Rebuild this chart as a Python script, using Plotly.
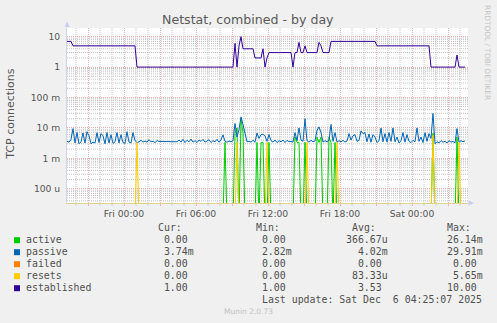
import numpy as np
import pandas as pd
import plotly.graph_objects as go

# ---------------- data ----------------
START = "2025-12-04 19:15"      # first sample (Thu)
STEP_MIN = 10                    # minutes between samples
N = 200

# passive (values in milli connections/s), one per sample
passive_m = [
    3.6, 3.4, 4.2, 9.5, 3.2, 7.0, 3.0, 3.5, 6.8, 3.2,
    7.5, 5.5, 3.0, 3.4, 3.2, 7.0, 3.3, 6.5, 5.5, 3.0,
    7.0, 3.2, 6.0, 3.1, 3.5, 7.0, 3.2, 6.0, 3.3, 3.1,
    7.5, 3.4, 3.2, 7.0, 3.8, 3.3, 3.5, 3.9, 3.4, 3.7,
    3.4, 4.1, 3.5, 3.6, 3.3, 3.8, 3.6, 3.6, 3.6, 3.6,
    3.7, 3.7, 3.7, 3.7, 3.7, 3.5, 4.0, 3.4, 4.2, 3.3,
    3.9, 3.5, 4.3, 3.4, 3.8, 3.3, 4.0, 3.6, 4.2, 3.4,
    3.7, 4.1, 3.3, 3.8, 3.5, 4.2, 3.4, 4.0, 5.9, 3.6,
    3.4, 3.7, 3.5, 3.8, 14.0, 5.0, 9.0, 23.0, 13.0, 6.5,
    3.5, 3.6, 3.4, 3.9, 3.4, 6.8, 4.5, 6.0, 6.2, 5.5,
    3.6, 6.0, 3.8, 3.4, 4.0, 3.3, 3.8, 3.5, 4.0, 3.3,
    3.9, 3.5, 3.6, 3.4, 7.0, 3.8, 10.0, 4.0, 3.6, 20.0,
    3.8, 3.4, 3.9, 3.5, 3.7, 8.3, 10.8, 7.0, 3.4, 3.8,
    3.5, 3.9, 13.0, 3.6, 7.0, 3.4, 3.8, 3.5, 3.9, 3.4,
    3.7, 6.5, 4.0, 5.5, 6.0, 3.6, 3.9, 8.0, 6.5, 7.0,
    3.5, 6.3, 3.4, 6.0, 5.0, 3.3, 3.8, 9.9, 3.5, 6.5,
    3.4, 7.0, 3.6, 10.0, 3.5, 5.0, 3.2, 3.8, 7.0, 3.4,
    6.0, 3.6, 3.3, 3.9, 3.5, 10.0, 3.6, 5.0, 3.3, 7.0,
    3.6, 6.5, 4.5, 30.0, 3.0, 3.5, 3.2, 3.8, 3.4, 3.6,
    3.2, 3.8, 3.4, 3.6, 3.2, 9.5, 3.4, 3.8, 3.5, 3.74,
]

# active: non-zero samples (index, milli); all other samples are 0
active_idx = [79, 84, 85, 87, 88, 95, 97, 98, 101, 114, 115, 116, 119,
              125, 126, 127, 131, 132, 134, 183, 195]
active_val = [3.33, 6.67, 10.0, 20.0, 6.67, 3.33, 3.33, 3.33, 3.33, 5.0, 3.33, 3.33, 3.33,
              5.0, 3.33, 5.0, 5.0, 3.33, 3.33, 6.67, 5.0]

# resets: non-zero samples (index, milli)
resets_idx = [35, 85, 100, 120, 135, 183, 196]
resets_val = [3.33, 3.33, 3.33, 3.33, 3.33, 5.65, 3.33]

# failed: all zero
failed_idx = []
failed_val = []

# established: vertices (sample index, value)
est_idx = [0, 2, 3, 34, 35, 83, 84, 85, 86, 87, 88, 93, 94, 97, 98, 99, 100, 101,
           112, 113, 114, 115, 116, 117, 118, 119, 120, 125, 126, 127, 128, 131,
           132, 154, 155, 181, 182, 194, 195, 196, 199]
est_val = [7, 7, 5, 5, 1, 1, 6, 1, 5, 10, 4, 4, 2, 2, 4, 1, 2, 3,
           3, 1, 3, 3, 6.5, 3, 3, 5, 3, 3, 6.5, 5, 3, 3,
           7, 7, 5, 5, 1, 1, 2.5, 1, 1]

series_names = ["active", "passive", "failed", "resets", "established"]
series_colors = ["#00cc00", "#0066b3", "#ff8000", "#ffcc00", "#330099"]
cur_txt = ["  0.00 ", "  3.74m", "  0.00 ", "  0.00 ", "  1.00 "]
min_txt = ["  0.00 ", "  2.82m", "  0.00 ", "  0.00 ", "  1.00 "]
avg_txt = ["366.67u", "  4.02m", "  0.00 ", " 83.33u", "  3.53 "]
max_txt = [" 26.14m", " 29.91m", "  0.00 ", "  5.65m", " 10.00 "]

ytick_vals = [1e-4, 1e-3, 1e-2, 1e-1, 1, 10]
ytick_text = ["100 u", "1 m", "10 m", "100 m", "1", "10"]

X_RANGE = ["2025-12-04 19:15", "2025-12-06 04:40"]
Y_LOG_RANGE = [-4.47, 1.286]
LOG_FLOOR = 1e-5   # zeros are drawn down to the bottom edge, as rrdtool does

# ---------------- build ----------------
W, H = 497, 323
L, R, T, B = 67, 29, 28, 120
PW, PH = W - L - R, H - T - B


def xp(px):
    return (px - L) / PW


def yp(py):
    return 1 - (py - T) / PH


def ylog_paper(v):
    return (np.log10(v) - Y_LOG_RANGE[0]) / (Y_LOG_RANGE[1] - Y_LOG_RANGE[0])


t0 = pd.Timestamp(START)
times = t0 + pd.to_timedelta(np.arange(N) * STEP_MIN, unit="min")


def sparse_full(idx, val):
    arr = [0.0] * N
    for i, v in zip(idx, val):
        arr[i] = v
    return arr


def to_plot(milli):
    return [v / 1000.0 if v > 0 else LOG_FLOOR for v in milli]


active = sparse_full(active_idx, active_val)
resets = sparse_full(resets_idx, resets_val)
failed = sparse_full(failed_idx, failed_val)

fig = go.Figure()
fig.add_trace(go.Scatter(x=times, y=to_plot(active), mode="lines",
                         line=dict(color=series_colors[0], width=1), name="active"))
fig.add_trace(go.Scatter(x=times, y=to_plot(passive_m), mode="lines",
                         line=dict(color=series_colors[1], width=1), name="passive"))
fig.add_trace(go.Scatter(x=times, y=to_plot(failed), mode="lines",
                         line=dict(color=series_colors[2], width=1), name="failed"))
fig.add_trace(go.Scatter(x=times, y=to_plot(resets), mode="lines",
                         line=dict(color=series_colors[3], width=1), name="resets"))
est_times = t0 + pd.to_timedelta(np.array(est_idx) * STEP_MIN, unit="min")
fig.add_trace(go.Scatter(x=est_times, y=est_val, mode="lines",
                         line=dict(color=series_colors[4], width=1), name="established"))

# x ticks every 3 h, labels every 6 h
tick_times = pd.date_range("2025-12-04 21:00", "2025-12-06 03:00", freq="3h")
tick_text = [t.strftime("%a %H:%M") if t.hour % 6 == 0 else "" for t in tick_times]
hour_times = [t for t in pd.date_range("2025-12-04 20:00", "2025-12-06 04:00", freq="1h")
              if t.hour % 3 != 0]

minor_y = [k * 10.0 ** e for e in range(-5, 2) for k in range(2, 10)
           if Y_LOG_RANGE[0] < np.log10(k * 10.0 ** e) < Y_LOG_RANGE[1]]

RED = "#efb2b2"
GRAY = "#c4c4c4"
TXT = "#555555"

fig.update_layout(
    width=W, height=H,
    margin=dict(l=L, r=R, t=T, b=B, pad=0),
    paper_bgcolor="#f0f0f0", plot_bgcolor="#ffffff",
    showlegend=False,
    font=dict(family="DejaVu Sans", size=9.2, color=TXT),
    xaxis=dict(
        type="date", range=X_RANGE,
        tickmode="array", tickvals=tick_times, ticktext=tick_text,
        showgrid=True, gridcolor=RED, griddash="1px,1px", gridwidth=1,
        ticks="outside", ticklen=2, tickcolor=RED,
        showline=True, linecolor="#e2d28c", linewidth=1,
        zeroline=False, tickfont=dict(size=9.2, color=TXT),
    ),
    yaxis=dict(
        type="log", range=Y_LOG_RANGE,
        tickmode="array", tickvals=ytick_vals, ticktext=ytick_text,
        showgrid=True, gridcolor=RED, griddash="1px,1px", gridwidth=1,
        ticks="", showline=True, linecolor="#cdd3f2", linewidth=1,
        zeroline=False, tickfont=dict(size=9.2, color=TXT),
        ticklabelstandoff=4,
    ),
)

shapes = []
# minor grid (hourly vertical, log-minor horizontal)
for t in hour_times:
    shapes.append(dict(type="line", xref="x", yref="paper", x0=t, x1=t, y0=0, y1=1,
                       layer="below", line=dict(color=GRAY, width=1, dash="1px,1px")))
    shapes.append(dict(type="line", xref="x", yref="paper", x0=t, x1=t, y0=0, y1=yp(205.5),
                       layer="below", line=dict(color=GRAY, width=1)))
for v in minor_y:
    yv = float(ylog_paper(v))
    shapes.append(dict(type="line", xref="paper", yref="paper", x0=0, x1=1, y0=yv, y1=yv,
                       layer="below", line=dict(color=GRAY, width=1, dash="1px,1px")))

ann = []
# title
ann.append(dict(text="Netstat, combined - by day", x=xp(248.2), y=yp(19.5),
                xref="paper", yref="paper", xanchor="center", yanchor="middle",
                showarrow=False, font=dict(size=12.6, color="#5a5a5a")))
# y-axis title
ann.append(dict(text="TCP connections", x=xp(11), y=yp(114.7), xref="paper", yref="paper",
                xanchor="center", yanchor="middle", textangle=-90, showarrow=False,
                font=dict(size=11, color=TXT)))
# right watermark
ann.append(dict(text="RRDTOOL / TOBI OETIKER", x=xp(487.5), y=yp(52.5), xref="paper",
                yref="paper", xanchor="center", yanchor="middle", textangle=90,
                showarrow=False, font=dict(size=7.4, color="#c4c4c4")))

MONO = dict(family="DejaVu Sans Mono", size=9.9, color="#505050")


def mono(txt, px, py):
    return dict(text=txt.replace(" ", "\u00a0"), x=xp(px), y=yp(py), xref="paper",
                yref="paper", xanchor="left", yanchor="middle", showarrow=False,
                borderpad=0, borderwidth=0, font=MONO)


HDR_Y = 227.5
ann += [mono("Cur:", 158.2, HDR_Y), mono("Min:", 255.6, HDR_Y),
        mono("Avg:", 351.6, HDR_Y), mono("Max:", 446.6, HDR_Y)]
for k, name in enumerate(series_names):
    ry = 239.7 + 12 * k
    ann.append(mono(name, 26.3, ry))
    ann.append(mono(cur_txt[k], 152.3, ry))
    ann.append(mono(min_txt[k], 249.7, ry))
    ann.append(mono(avg_txt[k], 345.7, ry))
    ann.append(mono(max_txt[k], 440.7, ry))
    shapes.append(dict(type="rect", xref="paper", yref="paper",
                       x0=xp(14), x1=xp(20), y0=yp(ry - 2.5), y1=yp(ry + 3.5),
                       fillcolor=series_colors[k], line=dict(width=0)))
ann.append(mono("Last update: Sat Dec  6 04:25:07 2025", 261.7, 299.7))
ann.append(dict(text="Munin 2.0.73", x=xp(248), y=yp(311.7), xref="paper", yref="paper",
                xanchor="center", yanchor="middle", showarrow=False,
                font=dict(family="DejaVu Sans", size=7.5, color="#c0c0c0")))

# axis arrows (decoration)
ARROW = "#c5ccf6"
shapes.append(dict(type="path", xref="paper", yref="paper",
                   path=f"M {xp(64.5)} {yp(27)} L {xp(69.5)} {yp(27)} L {xp(67)} {yp(21.5)} Z",
                   fillcolor=ARROW, line=dict(width=0)))
shapes.append(dict(type="path", xref="paper", yref="paper",
                   path=f"M {xp(468.5)} {yp(200.5)} L {xp(468.5)} {yp(205.5)} L {xp(474)} {yp(203)} Z",
                   fillcolor=ARROW, line=dict(width=0)))

fig.update_layout(annotations=ann, shapes=shapes)
fig.write_html("out.html")
